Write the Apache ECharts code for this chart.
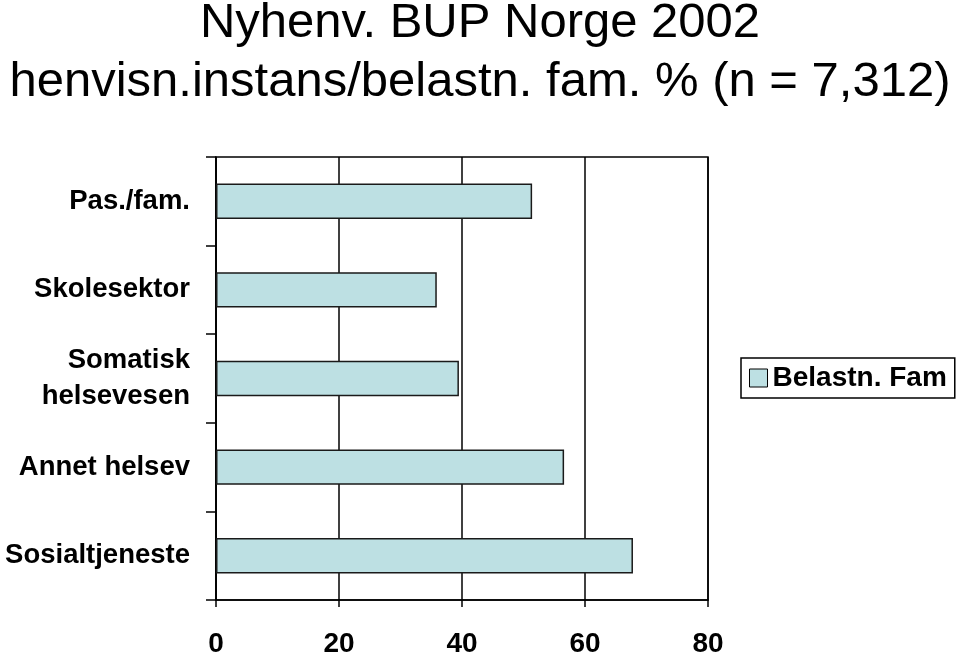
<!DOCTYPE html>
<html>
<head>
<meta charset="utf-8">
<script src="https://cdn.jsdelivr.net/npm/echarts@6/dist/echarts.min.js"></script>
<style>html,body{margin:0;padding:0;background:#fff}#c{width:960px;height:658px}</style>
</head>
<body>
<div id="c"></div>
<script>
const titleLines = ['Nyhenv. BUP Norge 2002', 'henvisn.instans/belastn. fam. % (n = 7,312)'];
const categories = ['Pas./fam.', 'Skolesektor', 'Somatisk\nhelsevesen', 'Annet helsev', 'Sosialtjeneste'];
const seriesName = 'Belastn. Fam';
const values = [51.4, 35.9, 39.5, 56.6, 67.8];
const xTicks = [0, 20, 40, 60, 80];

const font = 'Liberation Sans, Arial, Helvetica, sans-serif';
const chart = echarts.init(document.getElementById('c'), null, {renderer: 'canvas'});
chart.setOption({
  animation: false,
  backgroundColor: '#fff',
  title: {
    text: titleLines.join('\n'),
    left: 475, textAlign: 'center',
    top: -11,
    textStyle: {fontFamily: font, fontSize: 49, fontWeight: 'normal', color: '#000', lineHeight: 59}
  },
  legend: {
    data: [seriesName],
    left: 741, top: 358,
    orient: 'vertical',
    icon: 'rect',
    itemWidth: 18, itemHeight: 18, itemGap: 8,
    padding: [6, 8, 6, 8],
    borderColor: '#000', borderWidth: 1.5,
    textStyle: {fontFamily: font, fontSize: 28, fontWeight: 'bold', color: '#000'},
    itemStyle: {borderColor: '#000', borderWidth: 1}
  },
  grid: {left: 216, right: 252, top: 157, bottom: 55, show: true, borderColor: '#000', borderWidth: 1.5, containLabel: false},
  xAxis: {
    type: 'value', min: 0, max: 80, interval: 20,
    axisLine: {show: true, lineStyle: {color: '#000', width: 1.5}},
    axisTick: {show: true, length: 7, lineStyle: {color: '#000', width: 1.5}},
    splitLine: {show: true, lineStyle: {color: '#000', width: 1.5}},
    axisLabel: {fontFamily: font, fontSize: 28, fontWeight: 'bold', color: '#000', margin: 30,
      formatter: v => xTicks.includes(v) ? String(v) : ''}
  },
  yAxis: {
    type: 'category', data: categories, inverse: true,
    axisLine: {show: true, lineStyle: {color: '#000', width: 1.5}},
    axisTick: {show: true, length: 10, lineStyle: {color: '#000', width: 1.5}},
    splitLine: {show: false},
    axisLabel: {fontFamily: font, fontSize: 27.5, fontWeight: 'bold', color: '#000', margin: 26, lineHeight: 36, align: 'right'}
  },
  series: [{
    name: seriesName, type: 'bar', data: values,
    barCategoryGap: '60%',
    itemStyle: {color: '#bde0e3', borderColor: '#1a1a1a', borderWidth: 1.5}
  }]
});
</script>
</body>
</html>
